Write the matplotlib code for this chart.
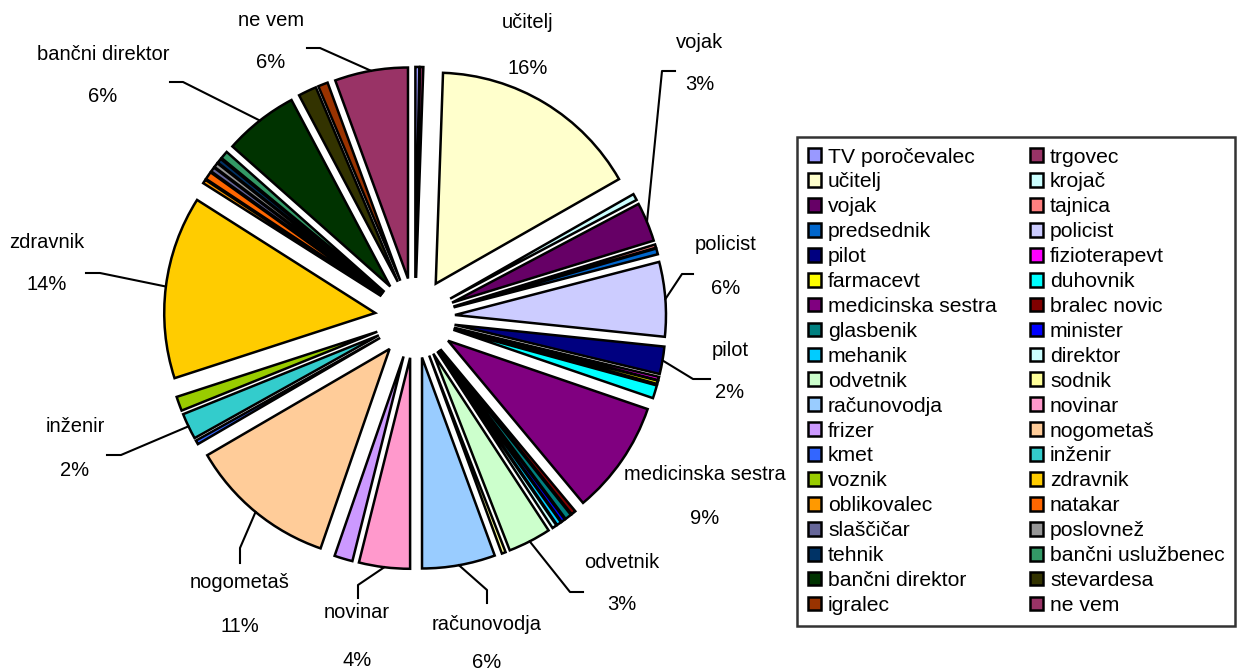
import matplotlib.pyplot as plt
from matplotlib.patches import Patch
import numpy as np

plt.rcParams['font.family'] = ['Liberation Sans', 'DejaVu Sans']

# occupations, clockwise from 12 o'clock (same order as legend, row by row)
occupations = ['TV poročevalec', 'trgovec', 'učitelj', 'krojač', 'vojak', 'tajnica',
               'predsednik', 'policist', 'pilot', 'fizioterapevt', 'farmacevt', 'duhovnik',
               'medicinska sestra', 'bralec novic', 'glasbenik', 'minister', 'mehanik',
               'direktor', 'odvetnik', 'sodnik', 'računovodja', 'novinar', 'frizer',
               'nogometaš', 'kmet', 'inženir', 'voznik', 'zdravnik', 'oblikovalec',
               'natakar', 'slaščičar', 'poslovnež', 'tehnik', 'bančni uslužbenec',
               'bančni direktor', 'stevardesa', 'igralec', 'ne vem']

# share in percent
shares = [0.3, 0.25, 16.2, 0.5, 3.0, 0.25,
          0.45, 5.7, 2.1, 0.25, 0.25, 1.0,
          8.7, 0.35, 0.5, 0.3, 0.35,
          0.35, 3.3, 0.3, 5.6, 3.9, 1.4,
          11.3, 0.3, 2.0, 1.1, 14.0, 0.3,
          0.6, 0.35, 0.35, 0.35, 0.6,
          5.7, 1.4, 0.75, 5.6]

colors = ['#9999FF', '#993366', '#FFFFCC', '#CCFFFF', '#660066', '#FF8080',
          '#0066CC', '#CCCCFF', '#000080', '#FF00FF', '#FFFF00', '#00FFFF',
          '#800080', '#800000', '#008080', '#0000FF', '#00CCFF',
          '#CCFFFF', '#CCFFCC', '#FFFF99', '#99CCFF', '#FF99CC', '#CC99FF',
          '#FFCC99', '#3366FF', '#33CCCC', '#99CC00', '#FFCC00', '#FF9900',
          '#FF6600', '#666699', '#969696', '#003366', '#339966',
          '#003300', '#333300', '#993300', '#993366']

# label layout in image pixels: text x, name y, percent y, leader knee, leader end
label_layout = {
    'učitelj': (528, 22, 68, None, None),
    'vojak': (700, 43, 84, (662, 71), (675, 71)),
    'policist': (726, 244, 288, (682, 274), (693, 274)),
    'pilot': (730, 350, 392, (693, 379), (710, 379)),
    'medicinska sestra': (705, 475, 518, None, None),
    'odvetnik': (622, 563, 605, (570, 592), (583, 592)),
    'računovodja': (487, 625, 663, (487, 590), (487, 603)),
    'novinar': (357, 612, 660, (358, 585), (358, 598)),
    'nogometaš': (240, 583, 627, (240, 548), (240, 563)),
    'inženir': (75, 427, 470, (121, 455), (107, 455)),
    'zdravnik': (47, 243, 285, (100, 273), (86, 273)),
    'bančni direktor': (103, 54, 97, (183, 82), (170, 82)),
    'ne vem': (271, 20, 62, (320, 48), (307, 48)),
}

W, H = 1241, 671
CX, CY, R = 415, 318, 211


def px(x, y):
    return (x - CX) / R, (CY - y) / R


fig = plt.figure(figsize=(W / 100, H / 100), dpi=100)
ax = fig.add_axes([0, 0, 1, 1])
wedges, _ = ax.pie(shares, colors=colors, startangle=90, counterclock=False,
                   explode=[0.19] * len(shares),
                   wedgeprops=dict(edgecolor='black', linewidth=1.8))
ax.set_xlim(-CX / R, (W - CX) / R)
ax.set_ylim(-(H - CY) / R, CY / R)
ax.set_aspect('auto')
ax.axis('off')

total = sum(shares)
for w, name, v in zip(wedges, occupations, shares):
    if name not in label_layout:
        continue
    tx, ny, py, knee, end = label_layout[name]
    x, y = px(tx, ny)
    ax.text(x, y, name, ha='center', va='center', fontsize=14.5)
    x, y = px(tx, py)
    ax.text(x, y, f'{v / total * 100:.0f}%', ha='center', va='center', fontsize=14.5)
    if knee is not None:
        mid = np.deg2rad((w.theta1 + w.theta2) / 2)
        sx = w.center[0] + w.r * np.cos(mid)
        sy = w.center[1] + w.r * np.sin(mid)
        kx, ky = px(*knee)
        ex, ey = px(*end)
        ax.plot([sx, kx, ex], [sy, ky, ey], color='black', lw=1.5)

handles = [Patch(facecolor=c, edgecolor='black', linewidth=1.8) for c in colors]
order = list(range(0, len(occupations), 2)) + list(range(1, len(occupations), 2))
leg = fig.legend([handles[i] for i in order], [occupations[i] for i in order],
                 ncol=2, loc='upper left', bbox_to_anchor=(797 / W, 1 - 137 / H),
                 fontsize=15.2, frameon=True, fancybox=False, edgecolor='black',
                 borderaxespad=0, handlelength=0.62, handleheight=0.62,
                 handletextpad=0.35, columnspacing=1.55, labelspacing=0.28,
                 borderpad=0.5)
leg.get_frame().set_linewidth(1.8)

fig.savefig('out.png', dpi=100)
